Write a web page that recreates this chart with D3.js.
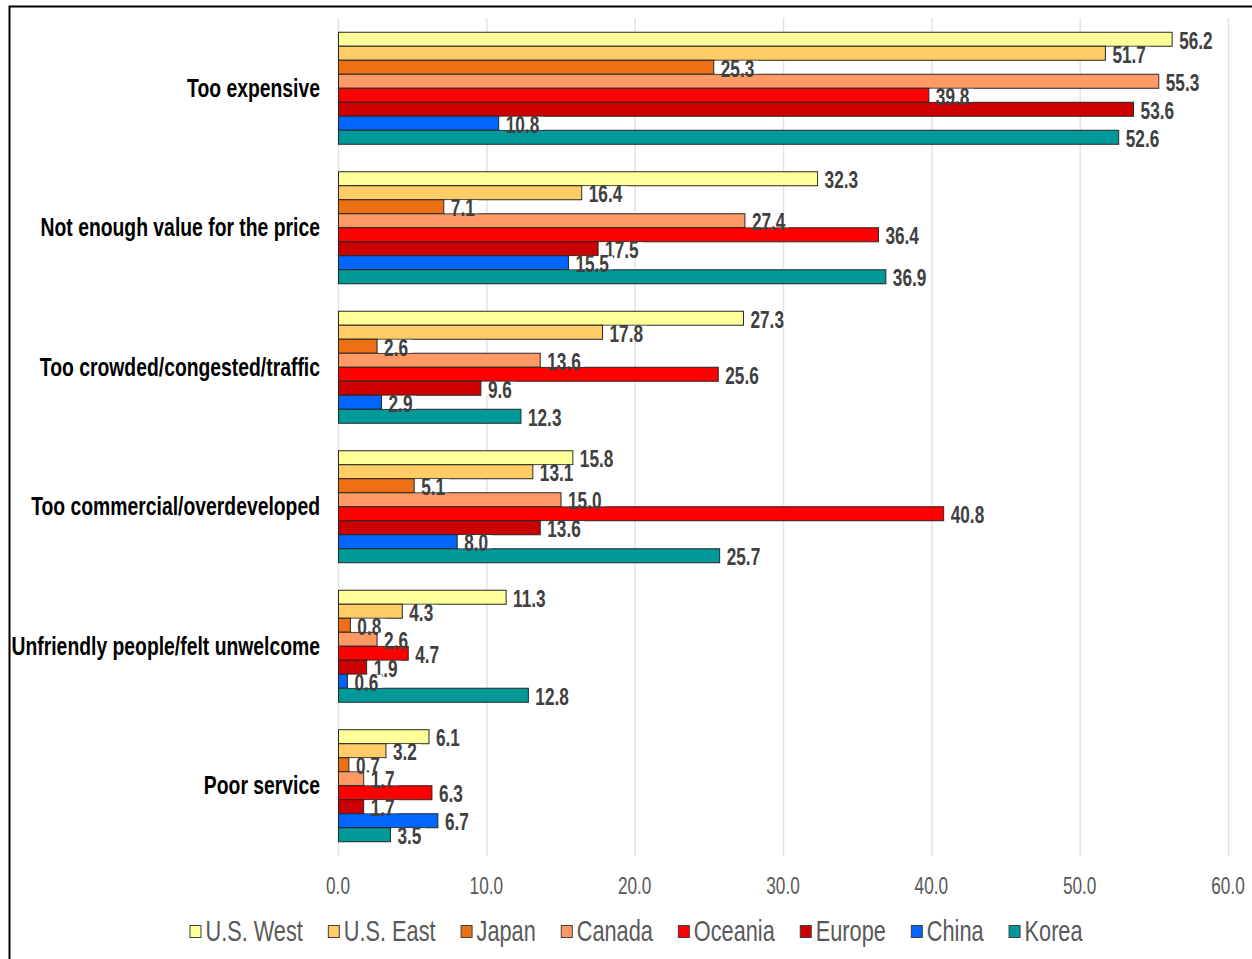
<!DOCTYPE html>
<html>
<head>
<meta charset="utf-8">
<script src="https://cdn.jsdelivr.net/npm/d3@7"></script>
<style>
  html, body { margin: 0; padding: 0; background: #fff; }
  svg { display: block; }
</style>
</head>
<body>
<svg id="chart" width="1252" height="959"></svg>
<script>
// Reasons given for not visiting, by source market (%)
const categories = [
  "Too expensive",
  "Not enough value for the price",
  "Too crowded/congested/traffic",
  "Too commercial/overdeveloped",
  "Unfriendly people/felt unwelcome",
  "Poor service"
];
const seriesNames = ["U.S. West", "U.S. East", "Japan", "Canada", "Oceania", "Europe", "China", "Korea"];
const seriesColors = ["#FFFF99", "#FFCC66", "#EE7015", "#FF9966", "#FF0000", "#CC0000", "#0066FF", "#009999"];

const usWest  = [56.2, 32.3, 27.3, 15.8, 11.3, 6.1];
const usEast  = [51.7, 16.4, 17.8, 13.1, 4.3, 3.2];
const japan   = [25.3, 7.1, 2.6, 5.1, 0.8, 0.7];
const canada  = [55.3, 27.4, 13.6, 15.0, 2.6, 1.7];
const oceania = [39.8, 36.4, 25.6, 40.8, 4.7, 6.3];
const europe  = [53.6, 17.5, 9.6, 13.6, 1.9, 1.7];
const china   = [10.8, 15.5, 2.9, 8.0, 0.6, 6.7];
const korea   = [52.6, 36.9, 12.3, 25.7, 12.8, 3.5];
const seriesValues = [usWest, usEast, japan, canada, oceania, europe, china, korea];

const xTicks = [0, 10, 20, 30, 40, 50, 60];

// Narrow face: use Liberation Sans Narrow when present, otherwise squeeze Liberation Sans
function fontAvailable(name) {
  const c = document.createElement("canvas").getContext("2d");
  const s = "abcdefghijklmnopqrstuvwxyz0123456789";
  c.font = "40px monospace";
  const a = c.measureText(s).width;
  c.font = `40px "${name}", monospace`;
  return c.measureText(s).width !== a;
}
const hasNarrow = fontAvailable("Liberation Sans Narrow");
const FAMILY = hasNarrow ? '"Liberation Sans Narrow", "Arial Narrow", sans-serif' : '"Liberation Sans", Arial, sans-serif';
const SQUEEZE = hasNarrow ? 1 : 0.82;
const STRETCH = 1.12; // tall, condensed lettering

function placeText(sel, x, y) {
  sel.attr("x", 0).attr("y", 0)
     .attr("transform", `translate(${x},${y}) scale(${SQUEEZE},${STRETCH})`);
  return sel;
}

const svg = d3.select("#chart");

// Chart frame
svg.append("rect")
  .attr("x", 9.5).attr("y", 6.5)
  .attr("width", 1300).attr("height", 1000)
  .attr("fill", "none").attr("stroke", "#000").attr("stroke-width", 2);

const x = d3.scaleLinear().domain([0, 60]).range([338, 1228]);
const y = d3.scaleBand().domain(categories).range([18, 855])
  .paddingInner(0.197).paddingOuter(0.0986);
const ySeries = d3.scaleBand().domain(seriesNames).range([0, y.bandwidth()]);

// Vertical gridlines
svg.append("g").selectAll("line").data(xTicks).join("line")
  .attr("x1", d => x(d) + 0.5).attr("x2", d => x(d) + 0.5)
  .attr("y1", 18).attr("y2", 856)
  .attr("stroke", "#E3E3E3").attr("stroke-width", 1.5);

// Bars
const groups = svg.append("g").selectAll("g").data(categories).join("g")
  .attr("transform", d => `translate(0,${y(d)})`);

const barData = (c, ci) => seriesNames.map((s, si) => ({ s, si, v: seriesValues[si][ci] }));

groups.selectAll("rect").data((c, ci) => barData(c, ci)).join("rect")
  .attr("x", x(0) + 0.5)
  .attr("y", d => ySeries(d.s) + 0.5)
  .attr("width", d => x(d.v) - x(0))
  .attr("height", ySeries.bandwidth())
  .attr("fill", d => seriesColors[d.si])
  .attr("stroke", "#262626").attr("stroke-width", 1);

// Value labels with white boxes
const labelGroups = svg.append("g").selectAll("g").data(categories).join("g")
  .attr("transform", d => `translate(0,${y(d)})`);

labelGroups.each(function (c, ci) {
  const g = d3.select(this);
  barData(c, ci).forEach(d => {
    const bx = x(d.v) + 1.5;
    const cy = ySeries(d.s) + ySeries.bandwidth() / 2 + 0.5;
    const lg = g.append("g");
    const box = lg.append("rect").attr("fill", "#fff");
    const t = placeText(lg.append("text"), bx + 6, cy + 9.5)
      .attr("font-family", FAMILY).attr("font-weight", "bold")
      .attr("font-size", 21).attr("fill", "#404040")
      .text(d.v.toFixed(1));
    const w = t.node().getComputedTextLength() * SQUEEZE;
    box.attr("x", bx).attr("y", cy - 6.5).attr("width", w + 10).attr("height", 13);
  });
});

// Category labels
svg.append("g").selectAll("text").data(categories).join("text")
  .each(function (d) {
    placeText(d3.select(this), 320, y(d) + y.bandwidth() / 2 + 9);
  })
  .attr("text-anchor", "end")
  .attr("font-family", FAMILY).attr("font-weight", "bold")
  .attr("font-size", 23.6).attr("fill", "#000")
  .text(d => d);

// X axis tick labels
svg.append("g").selectAll("text").data(xTicks).join("text")
  .each(function (d) {
    placeText(d3.select(this), x(d), 894);
  })
  .attr("text-anchor", "middle")
  .attr("font-family", FAMILY)
  .attr("font-size", 21).attr("fill", "#595959")
  .text(d => d.toFixed(1));

// Legend
const legend = svg.append("g");
let lx = 0;
const GAP = 25;
seriesNames.forEach((name, i) => {
  const ig = legend.append("g");
  ig.append("rect")
    .attr("x", lx + 0.5).attr("y", 925.5).attr("width", 11).attr("height", 12)
    .attr("fill", seriesColors[i]).attr("stroke", "#404040").attr("stroke-width", 1);
  const t = placeText(ig.append("text"), lx + 16, 941)
    .attr("font-family", FAMILY)
    .attr("font-size", 26.5).attr("fill", "#595959")
    .text(name);
  const w = t.node().getComputedTextLength() * SQUEEZE;
  lx += 16 + w + GAP;
});
const legendWidth = lx - GAP;
legend.attr("transform", `translate(${636 - legendWidth / 2},0)`);
</script>
</body>
</html>
